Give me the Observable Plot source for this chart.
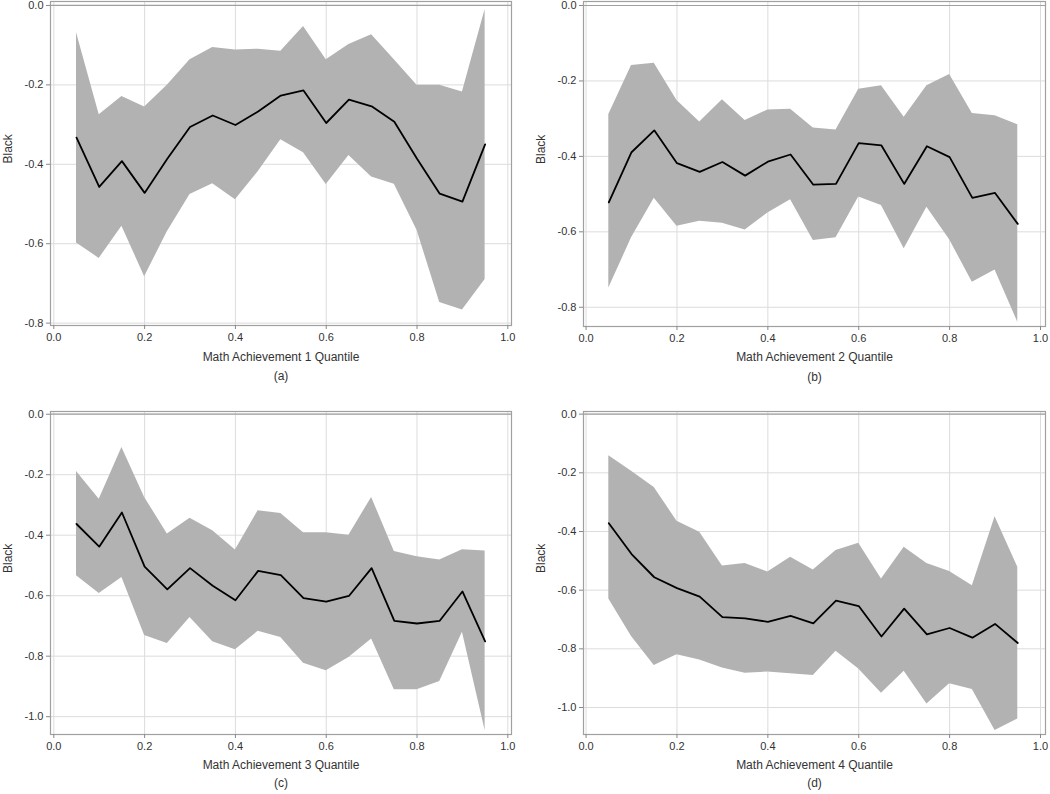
<!DOCTYPE html>
<html><head><meta charset="utf-8">
<script src="https://cdn.jsdelivr.net/npm/d3@7"></script>
<script src="https://cdn.jsdelivr.net/npm/@observablehq/plot@0.6"></script>
<style>
body{margin:0;background:#fff;}
#wrap{position:relative;width:1050px;height:794px;font-family:"Liberation Sans",Arial,sans-serif;overflow:hidden;}
.panel{position:absolute;}
</style></head><body><div id="wrap"></div>
<script>
const quantiles = [0.05,0.10,0.15,0.20,0.25,0.30,0.35,0.40,0.45,0.50,0.55,0.60,0.65,0.70,0.75,0.80,0.85,0.90,0.95];

const meanA  = [-0.333,-0.457,-0.392,-0.472,-0.386,-0.306,-0.277,-0.301,-0.267,-0.227,-0.214,-0.296,-0.237,-0.254,-0.293,-0.386,-0.474,-0.494,-0.350];
const upperA = [-0.069,-0.275,-0.229,-0.256,-0.201,-0.137,-0.106,-0.112,-0.110,-0.115,-0.053,-0.137,-0.098,-0.074,-0.137,-0.201,-0.201,-0.218,-0.010];
const lowerA = [-0.598,-0.637,-0.556,-0.683,-0.570,-0.476,-0.449,-0.489,-0.419,-0.338,-0.371,-0.451,-0.378,-0.432,-0.450,-0.566,-0.748,-0.767,-0.690];

const meanB  = [-0.522,-0.389,-0.331,-0.418,-0.441,-0.415,-0.451,-0.414,-0.395,-0.475,-0.473,-0.365,-0.371,-0.473,-0.373,-0.402,-0.510,-0.497,-0.579];
const upperB = [-0.289,-0.159,-0.153,-0.252,-0.309,-0.250,-0.305,-0.277,-0.275,-0.325,-0.330,-0.222,-0.213,-0.296,-0.213,-0.183,-0.286,-0.292,-0.316];
const lowerB = [-0.749,-0.616,-0.511,-0.585,-0.572,-0.577,-0.595,-0.550,-0.515,-0.623,-0.616,-0.508,-0.530,-0.645,-0.535,-0.621,-0.734,-0.701,-0.840];

const meanC  = [-0.363,-0.438,-0.325,-0.504,-0.579,-0.509,-0.567,-0.615,-0.518,-0.532,-0.608,-0.620,-0.601,-0.509,-0.683,-0.692,-0.683,-0.586,-0.751];
const upperC = [-0.189,-0.281,-0.110,-0.275,-0.396,-0.344,-0.385,-0.449,-0.319,-0.328,-0.392,-0.392,-0.400,-0.275,-0.454,-0.471,-0.482,-0.448,-0.452];
const lowerC = [-0.534,-0.593,-0.540,-0.732,-0.758,-0.672,-0.752,-0.779,-0.718,-0.738,-0.823,-0.848,-0.804,-0.743,-0.911,-0.911,-0.884,-0.721,-1.046];

const meanD  = [-0.372,-0.477,-0.556,-0.593,-0.622,-0.692,-0.696,-0.708,-0.688,-0.713,-0.636,-0.654,-0.758,-0.663,-0.751,-0.729,-0.762,-0.715,-0.780];
const upperD = [-0.142,-0.195,-0.250,-0.365,-0.403,-0.518,-0.509,-0.538,-0.488,-0.531,-0.465,-0.440,-0.562,-0.454,-0.509,-0.536,-0.585,-0.350,-0.522];
const lowerD = [-0.630,-0.758,-0.857,-0.820,-0.838,-0.865,-0.883,-0.879,-0.885,-0.891,-0.808,-0.869,-0.951,-0.876,-0.988,-0.919,-0.939,-1.078,-1.039];

const xTicks   = [0, 0.2, 0.4, 0.6, 0.8, 1.0];
const yTicksAB = [0, -0.2, -0.4, -0.6, -0.8];
const yTicksCD = [0, -0.2, -0.4, -0.6, -0.8, -1.0];
const xLabels  = ["Math Achievement 1 Quantile", "Math Achievement 2 Quantile", "Math Achievement 3 Quantile", "Math Achievement 4 Quantile"];
const captions = ["(a)", "(b)", "(c)", "(d)"];
const yLabel   = "Black";

const series = [
  {mean: meanA, upper: upperA, lower: lowerA, yTicks: yTicksAB},
  {mean: meanB, upper: upperB, lower: lowerB, yTicks: yTicksAB},
  {mean: meanC, upper: upperC, lower: lowerC, yTicks: yTicksCD},
  {mean: meanD, upper: upperD, lower: lowerD, yTicks: yTicksCD}
];

// layout (positions/sizes only)
const layout = [
  {left: 0,   top: 0,   mL: 50, mR: 14, mT: 1,  mB: 72, xd: [-0.0073, 1.0081], yd: [-0.806, 0.010], lab: 35, cap: 54},
  {left: 525, top: 0,   mL: 58, mR: 5,  mT: 1,  mB: 71, xd: [-0.0057, 1.011],  yd: [-0.851, 0.0106], lab: 34, cap: 54},
  {left: 0,   top: 397, mL: 50, mR: 14, mT: 14, mB: 60, xd: [-0.0073, 1.0081], yd: [-1.059, 0.009], lab: 34, cap: 52},
  {left: 525, top: 397, mL: 58, mR: 5,  mT: 14, mB: 60, xd: [-0.0057, 1.011],  yd: [-1.092, 0.009], lab: 34, cap: 52}
];

const fmt = d => (Math.abs(d) < 1e-9 ? 0 : d).toFixed(1);
const wrap = document.getElementById("wrap");

series.forEach((s, k) => {
  const L = layout[k];
  const rows = quantiles.map((q, i) => ({q, mean: s.mean[i], lo: s.lower[i], hi: s.upper[i]}));
  const chart = Plot.plot({
    width: 525, height: 397,
    marginLeft: L.mL, marginRight: L.mR, marginTop: L.mT, marginBottom: L.mB,
    style: {fontFamily: '"Liberation Sans", Arial, sans-serif', fontSize: "11px", color: "#333", background: "transparent", overflow: "visible"},
    x: {domain: L.xd},
    y: {domain: L.yd},
    marks: [
      Plot.gridX(xTicks, {stroke: "#dcdcdc", strokeOpacity: 1}),
      Plot.gridY(s.yTicks, {stroke: "#dcdcdc", strokeOpacity: 1}),
      Plot.areaY(rows, {x: "q", y1: "lo", y2: "hi", fill: "#b2b2b2", fillOpacity: 1}),
      Plot.lineY(rows, {x: "q", y: "mean", stroke: "#000", strokeWidth: 1.8}),
      Plot.ruleY([0], {stroke: "#a0a0a0", strokeWidth: 1.2}),
      Plot.frame({stroke: "#a0a0a0", strokeWidth: 1.2}),
      Plot.axisX(xTicks, {tickFormat: fmt, tickSize: 4, tickPadding: 4, label: null, stroke: "#888", fill: "#333", fontSize: 11}),
      Plot.axisY(s.yTicks, {tickFormat: fmt, tickSize: 4, tickPadding: 3, label: null, stroke: "#888", fill: "#333", fontSize: 11}),
      Plot.text([yLabel], {frameAnchor: "left", dx: -42, rotate: -90, fontSize: 12, fill: "#333"}),
      Plot.text([xLabels[k]], {frameAnchor: "bottom", dy: L.lab, fontSize: 12, fill: "#333"}),
      Plot.text([captions[k]], {frameAnchor: "bottom", dy: L.cap, fontSize: 12, fill: "#333"})
    ]
  });
  const div = document.createElement("div");
  div.className = "panel";
  div.style.left = L.left + "px";
  div.style.top = L.top + "px";
  div.appendChild(chart);
  wrap.appendChild(div);
});
</script>
</body></html>
